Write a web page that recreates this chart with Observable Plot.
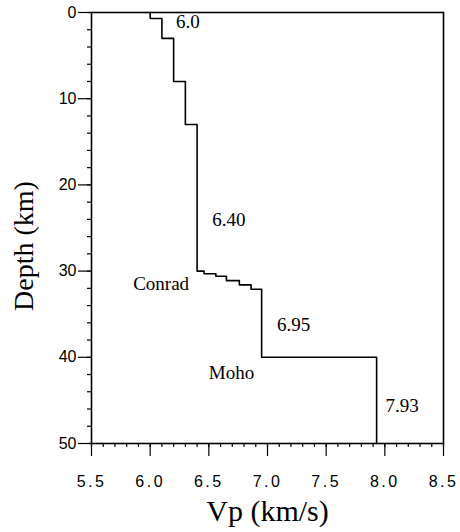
<!DOCTYPE html>
<html>
<head>
<meta charset="utf-8">
<script src="https://cdn.jsdelivr.net/npm/d3@7"></script>
<script src="https://cdn.jsdelivr.net/npm/@observablehq/plot@0.6"></script>
<style>
  html, body { margin: 0; padding: 0; background: #fff; }
  #chart svg { display: block; }
  g[aria-label="x-axis tick label"] text { letter-spacing: 2.5px; }
</style>
</head>
<body>
<div id="chart"></div>
<script>
// Layered velocity model: top depth of each layer (km) and its Vp (km/s)
const layerTop = [0, 0.7, 3, 8, 13, 30.0, 30.3, 30.6, 31.1, 31.6, 32.1, 40];
const layerVp  = [6.0, 6.1, 6.2, 6.3, 6.4, 6.46, 6.56, 6.65, 6.76, 6.86, 6.95, 7.93];
const bottomDepth = 50;

// Annotations
const labelText  = ["6.0", "6.40", "Conrad", "6.95", "Moho", "7.93"];
const labelVp    = [6.22, 6.53, 5.855, 7.08, 6.5, 8.006];
const labelDepth = [1.75, 24.8, 32.25, 37.0, 42.5, 46.4];

// Tick values
const xMajorTicks = [5.5, 6.0, 6.5, 7.0, 7.5, 8.0, 8.5];
const xMinorTicks = d3.range(55, 86, 1).map(d => d / 10);
const yMajorTicks = [0, 10, 20, 30, 40, 50];
const yMinorTicks = d3.range(0, 51, 2);

const profile = layerTop.map((t, i) => ({vp: layerVp[i], depth: t}));
profile.push({vp: layerVp[layerVp.length - 1], depth: bottomDepth});
const labels = labelText.map((t, i) => ({text: t, vp: labelVp[i], depth: labelDepth[i]}));

const sans = "'Liberation Sans', Arial, sans-serif";
const serif = "'Liberation Serif', 'Times New Roman', serif";

const chart = Plot.plot({
  width: 460,
  height: 532,
  marginLeft: 91,
  marginRight: 17,
  marginTop: 12,
  marginBottom: 89,
  style: {fontFamily: sans, fontSize: "16px", color: "black", background: "white"},
  x: {domain: [5.5, 8.5]},
  y: {domain: [0, 50], reverse: true},
  marks: [
    Plot.axisX(xMinorTicks, {tickSize: 4, tickFormat: () => "", label: null, strokeWidth: 1.2}),
    Plot.axisX(xMajorTicks, {tickSize: 13, tickPadding: 19, tickFormat: d3.format(".1f"), label: null, fontSize: 16, strokeWidth: 1.2}),
    Plot.axisY(yMinorTicks, {tickSize: 4, tickFormat: () => "", label: null, strokeWidth: 1.2}),
    Plot.axisY(yMajorTicks, {tickSize: 13, tickPadding: 2, tickFormat: d3.format("d"), label: null, fontSize: 16, strokeWidth: 1.2}),
    Plot.frame({stroke: "black", strokeWidth: 1.6}),
    Plot.line(profile, {x: "vp", y: "depth", curve: "step-before", stroke: "black", strokeWidth: 1.6}),
    Plot.text(labels, {x: "vp", y: "depth", text: "text", textAnchor: "start", lineAnchor: "bottom", fontFamily: serif, fontSize: 19, fill: "black"}),
    Plot.text(["Vp (km/s)"], {frameAnchor: "bottom", text: d => d, textAnchor: "middle", lineAnchor: "bottom", dy: 77, fontFamily: serif, fontSize: 30, fill: "black"}),
    Plot.text(["Depth (km)"], {frameAnchor: "left", text: d => d, textAnchor: "middle", lineAnchor: "bottom", rotate: -90, dx: -59, dy: 18, fontFamily: serif, fontSize: 28, fill: "black"})
  ]
});
document.getElementById("chart").appendChild(chart);
</script>
</body>
</html>
